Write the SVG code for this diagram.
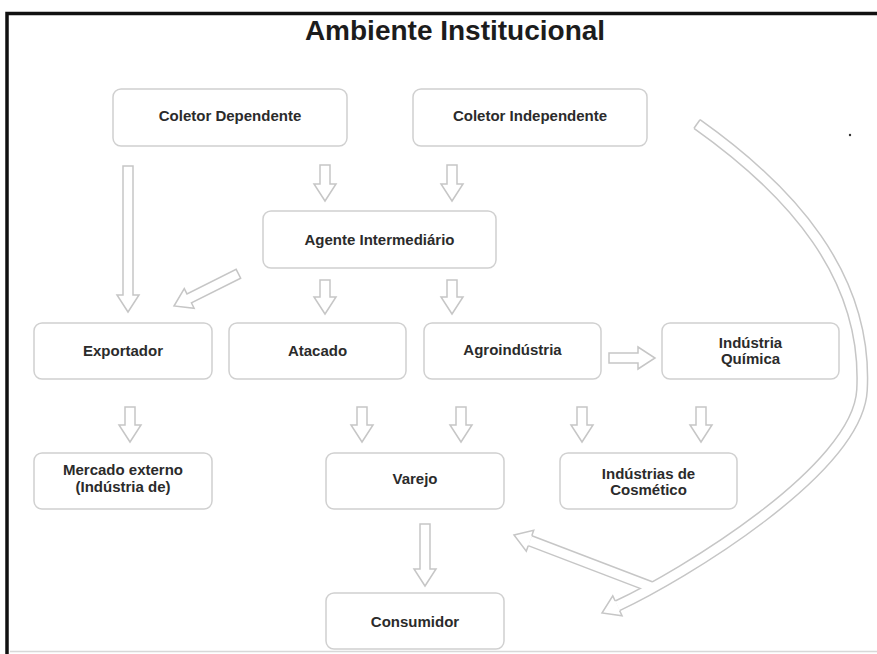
<svg xmlns="http://www.w3.org/2000/svg" width="877" height="654" viewBox="0 0 877 654">
<style>
.box{fill:#fff;stroke:#d0d0d0;stroke-width:1.5}
.lbl{font-family:"Liberation Sans",Arial,sans-serif;font-weight:bold;font-size:15px;fill:#2b2b2b;text-anchor:middle}
.title{font-family:"Liberation Sans",Arial,sans-serif;font-weight:bold;font-size:28px;fill:#1c1c1c;text-anchor:middle}
.arr{fill:#fff;stroke:#c6c6c6;stroke-width:1.5;stroke-linejoin:miter}
.bandO{fill:none;stroke:#c6c6c6;stroke-width:12}
.bandI{fill:none;stroke:#fff;stroke-width:9}
</style>
<rect x="0" y="0" width="877" height="654" fill="#fff"/>
<path d="M7,654 L7,13.5 L877,13.5" fill="none" stroke="#111" stroke-width="3.5"/>
<line x1="10" y1="651.5" x2="877" y2="651.5" stroke="#d8d8d8" stroke-width="1.5"/>
<text class="title" x="455" y="40">Ambiente Institucional</text>
<circle cx="850" cy="135" r="1.2" fill="#333"/>

<g id="connectors">
  <polygon class="arr" points="320,165 330,165 330,184 336,184 325,201 314,184 320,184"/>
  <polygon class="arr" points="447,165 457,165 457,184 463,184 452,201 441,184 447,184"/>
  <polygon class="arr" points="123,166 133,166 133,295 139,295 128,312 117,295 123,295"/>
  <polygon class="arr" transform="translate(174,306) rotate(153.43)" points="-72,-5 -17,-5 -17,-11 0,0 -17,11 -17,5 -72,5"/>
  <polygon class="arr" points="320,280 330,280 330,297 336,297 325,314 314,297 320,297"/>
  <polygon class="arr" points="447,280 457,280 457,297 463,297 452,314 441,297 447,297"/>
  <polygon class="arr" points="609,353 638,353 638,347 655,358 638,369 638,363 609,363"/>
  <polygon class="arr" points="125,407 135,407 135,425 141,425 130,442 119,425 125,425"/>
  <polygon class="arr" points="357,407 367,407 367,425 373,425 362,442 351,425 357,425"/>
  <polygon class="arr" points="456,407 466,407 466,425 472,425 461,442 450,425 456,425"/>
  <polygon class="arr" points="577,407 587,407 587,425 593,425 582,442 571,425 577,425"/>
  <polygon class="arr" points="696,407 706,407 706,425 712,425 701,442 690,425 696,425"/>
  <polygon class="arr" points="420,524 430,524 430,569 436,569 425,586 414,569 420,569"/>
  <g id="curved-arrow">
    <path class="bandO" d="M697,124 C790,190 868,275 862,390 C858,470 680.8,576.2 617.4,605.8"/>
    <path class="bandO" d="M653,587.7 L530,540.7"/>
    <path class="bandI" d="M697,124 C790,190 868,275 862,390 C858,470 680.8,576.2 617.4,605.8"/>
    <path class="bandI" d="M653,587.7 L530,540.7"/>
    <line x1="694" y1="128.3" x2="700" y2="119.7" stroke="#c6c6c6" stroke-width="1.5"/>
    <path class="arr" transform="translate(602,613) rotate(155)" d="M-17,-5.25 L-17,-11 L0,0 L-17,11 L-17,5.25"/>
    <path class="arr" transform="translate(514,535) rotate(199.7)" d="M-17,-5.25 L-17,-11 L0,0 L-17,11 L-17,5.25"/>
  </g>
</g>

<g id="coletor-dependente"><rect class="box" x="113" y="89" width="234" height="57" rx="8"/><text class="lbl" x="230" y="121">Coletor Dependente</text></g>
<g id="coletor-independente"><rect class="box" x="413" y="89" width="234" height="57" rx="8"/><text class="lbl" x="530" y="121">Coletor Independente</text></g>
<g id="agente-intermediario"><rect class="box" x="263" y="211" width="233" height="57" rx="8"/><text class="lbl" x="379.5" y="245">Agente Intermediário</text></g>
<g id="exportador"><rect class="box" x="34" y="323" width="178" height="56" rx="8"/><text class="lbl" x="123" y="356">Exportador</text></g>
<g id="atacado"><rect class="box" x="229" y="323" width="177" height="56" rx="8"/><text class="lbl" x="317.5" y="356">Atacado</text></g>
<g id="agroindustria"><rect class="box" x="424" y="323" width="177" height="56" rx="8"/><text class="lbl" x="512.5" y="355">Agroindústria</text></g>
<g id="industria-quimica"><rect class="box" x="662" y="323" width="177" height="56" rx="8"/><text class="lbl" x="750.5" y="348">Indústria</text><text class="lbl" x="750.5" y="364">Química</text></g>
<g id="mercado-externo"><rect class="box" x="34" y="453" width="178" height="56" rx="8"/><text class="lbl" x="123" y="475">Mercado externo</text><text class="lbl" x="123" y="492">(Indústria de)</text></g>
<g id="varejo"><rect class="box" x="326" y="453" width="178" height="56" rx="8"/><text class="lbl" x="415" y="484">Varejo</text></g>
<g id="industrias-cosmetico"><rect class="box" x="560" y="453" width="177" height="56" rx="8"/><text class="lbl" x="648.5" y="479">Indústrias de</text><text class="lbl" x="648.5" y="495">Cosmético</text></g>
<g id="consumidor"><rect class="box" x="326" y="593" width="178" height="56" rx="8"/><text class="lbl" x="415" y="627">Consumidor</text></g>
</svg>
